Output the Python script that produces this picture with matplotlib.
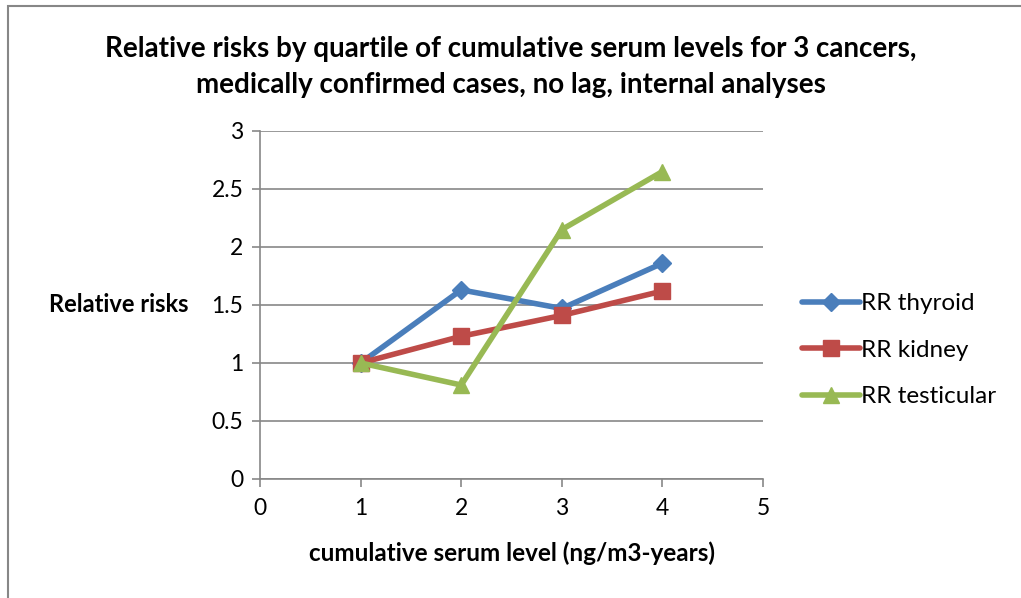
import matplotlib.pyplot as plt
from matplotlib.patches import Rectangle

plt.rcParams['font.family'] = ['Lato', 'DejaVu Sans']

quartiles = [1, 2, 3, 4]
rr_thyroid = [1.0, 1.63, 1.47, 1.86]
rr_kidney = [1.0, 1.23, 1.41, 1.62]
rr_testicular = [1.0, 0.81, 2.15, 2.65]

series = [
    ('RR thyroid', rr_thyroid, '#4a7ebb', 'D', 9),
    ('RR kidney', rr_kidney, '#be4b48', 's', 11),
    ('RR testicular', rr_testicular, '#98b954', '^', 12),
]

fig = plt.figure(figsize=(10.21, 5.98), dpi=100)
ax = fig.add_axes([0.2547, 0.199, 0.4926, 0.582])

for name, vals, color, marker, ms in series:
    ax.plot(quartiles, vals, color=color, lw=4, marker=marker, ms=ms,
            label=name, solid_capstyle='round')

ax.set_xlim(0, 5)
ax.set_ylim(0, 3)
ax.set_xticks(range(0, 6))
ax.set_yticks([0, 0.5, 1, 1.5, 2, 2.5, 3])
ax.set_yticklabels(['0', '0.5', '1', '1.5', '2', '2.5', '3'])
ax.grid(axis='y', color='#878787', lw=1.2)
ax.set_axisbelow(True)
for s in ['top', 'right']:
    ax.spines[s].set_visible(False)
for s in ['left', 'bottom']:
    ax.spines[s].set_color('#878787')
    ax.spines[s].set_linewidth(1.2)
ax.tick_params(axis='both', labelsize=16.5, color='#878787', length=6, width=1.2)
ax.tick_params(axis='x', pad=8)
ax.tick_params(axis='y', pad=6)

ax.set_xlabel('cumulative serum level (ng/m3-years)', fontsize=17.5,
              fontweight='bold', labelpad=16)
ax.set_ylabel('Relative risks', fontsize=17, fontweight='bold',
              rotation=0, ha='right', va='center')
ax.yaxis.set_label_coords(-0.143, 0.5)

fig.suptitle('Relative risks by quartile of cumulative serum levels for 3 cancers,\n'
             'medically confirmed cases, no lag, internal analyses',
             fontsize=20, fontweight='bold', y=0.94, linespacing=1.5)

ax.legend(loc='center left', bbox_to_anchor=(1.0, 0.37), frameon=False,
          fontsize=17.5, handlelength=2.4, labelspacing=1.05, handletextpad=0.05,
          borderaxespad=1.2)

fig.patches.append(Rectangle((0.008, -0.05), 1.1, 1.04, transform=fig.transFigure,
                             fill=False, edgecolor='#878787', lw=1.5))

fig.savefig('out.png', dpi=100)
